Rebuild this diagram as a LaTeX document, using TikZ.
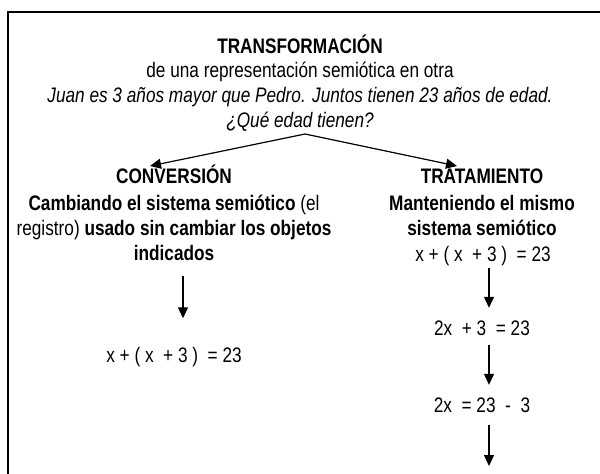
\documentclass[tikz,border=0pt]{standalone}
\usepackage{fontspec}
\setmainfont{Liberation Sans}[FakeStretch=0.82]
\usepackage{tikz}
\usetikzlibrary{
  arrows.meta,
  positioning
}

\begin{document}
\begin{tikzpicture}[
      x=1pt,y=-1pt,
      textbase/.style={
         rectangle,
         inner sep=0pt,
         font=\fontsize{21}{25}\selectfont
      },
      line/.style={
         textbase,
         text height=15pt,
         text depth=4pt
      },
      heading/.style={
         line,
         font=\fontsize{21}{25}\selectfont\bfseries
      },
      block/.style={
         textbase,
         align=center,
         font=\fontsize{21}{25}\selectfont\bfseries
      },
      eqn/.style={
         line
      },
      frame/.style={line width=2pt,draw=black},
      tip/.style={-{Triangle[length=11pt,width=10pt]},line width=1.2pt},
    ]
    \useasboundingbox (0,0) rectangle (600,474);
    % border, cut on two sides
    \draw[frame] (8,474) -- (8,12) -- (600,12);
    % heading
    \node (title) [heading] at (300,48) {TRANSFORMACIÓN};
    \node (sub) [line] at (300,72) {de una representación semiótica en otra};
    \node (problem) [line,font=\fontsize{21}{25}\selectfont\itshape] at (300,97)
       {Juan es 3 años mayor que Pedro. Juntos tienen 23 años de edad.};
    \node (ask) [line,font=\fontsize{21}{25}\selectfont\itshape] at (300,122) {¿Qué edad tienen?};
    \coordinate (split) at (305,134);
    \coordinate (toconv) at (150,166);
    \coordinate (totrat) at (457,166);
    % two branches
    \node (conv) [heading] at (174,178) {CONVERSIÓN};
    \node (convtext) [block] at (174,228)
       {Cambiando el sistema semiótico \mdseries(el\\
        \mdseries registro) \bfseries usado sin cambiar los objetos\\
        indicados};
    \node (conveq) [eqn] at (174,357) {x + ( x \ + 3 ) \ = 23};
    \node (trat) [heading] at (482,178) {TRATAMIENTO};
    \node (trattext) [block] at (482,215.5)
       {Manteniendo el mismo\\sistema semiótico};
    \node (eqa) [eqn] at (483,256) {x + ( x \ + 3 ) \ = 23};
    \node (eqb) [eqn] at (482,330) {2x \ + 3 \ = 23};
    \node (eqc) [eqn] at (482,407) {2x \ = 23 \ - \ 3};
    \coordinate (eqend) at (489,466);
    % connectors
    \draw[tip] (split) -- (toconv);
    \draw[tip] (split) -- (totrat);
    \draw[tip,shorten <=15pt,shorten >=29pt] ([xshift=9pt]convtext.south) -- ([xshift=9pt]conveq.north);
    \draw[tip,shorten <=2.5pt,shorten >=12.5pt] ([xshift=6pt]eqa.south) -- ([xshift=7pt]eqb.north);
    \draw[tip,shorten <=5.5pt,shorten >=12.5pt] ([xshift=7pt]eqb.south) -- ([xshift=7pt]eqc.north);
    \draw[tip,shorten <=8.5pt] ([xshift=7pt]eqc.south) -- (eqend);
\end{tikzpicture}
\end{document}
